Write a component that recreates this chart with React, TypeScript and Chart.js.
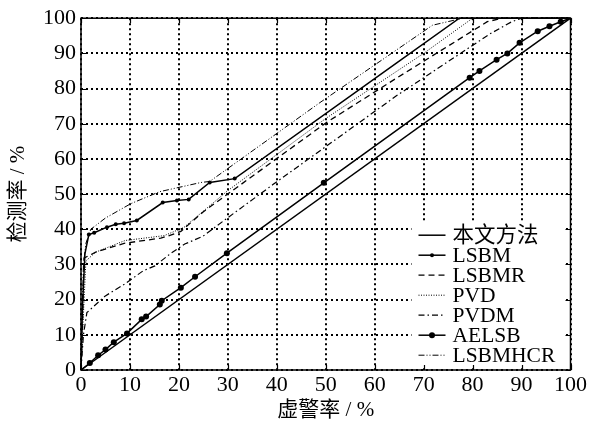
import React, { useEffect, useRef } from "react";
import { Chart, registerables } from "chart.js";

Chart.register(...registerables);

// Axis ticks (percent)
const axisTicks = [0, 10, 20, 30, 40, 50, 60, 70, 80, 90, 100];

// ROC curves: false alarm rate (%) vs detection rate (%)
const oursFpr = [0, 100];
const oursTpr = [0, 100];

const lsbmFpr = [0, 0.3, 0.8, 1.6, 2.7, 5.3, 7.1, 8.8, 11.4, 16.7, 19.6, 22, 26.3, 31.4, 64.5, 77.3, 100];
const lsbmTpr = [0, 18, 33, 38.5, 39, 40.6, 41.4, 41.7, 42.5, 47.6, 48.2, 48.5, 53.3, 54.4, 87.3, 100, 100];

const lsbmrFpr = [0, 0.3, 0.6, 3, 8.8, 16.3, 17.6, 20.4, 25, 50.2, 64.5, 83, 86, 100];
const lsbmrTpr = [0, 12, 31.8, 33.5, 36, 37.5, 38, 39.4, 45, 70.4, 83, 99, 100, 100];

const pvdFpr = [0, 0.3, 1, 3, 9, 17, 21, 30, 50, 70, 80, 100];
const pvdTpr = [0, 10, 31, 33.5, 36.8, 38.2, 40.5, 51, 71.5, 90, 100, 100];

const pvdmFpr = [0, 0.5, 1.2, 4.9, 9, 12.7, 15.1, 18.2, 21.2, 24.9, 29.8, 39.2, 64.5, 83.5, 88, 90, 100];
const pvdmTpr = [0, 10, 16.3, 21, 24.5, 28.2, 29.6, 33, 35.8, 38, 43.1, 52.7, 78, 95.5, 99, 100, 100];

const aelsbFpr = [0, 1.8, 3.5, 5, 6.7, 9.4, 12.4, 13.3, 16.1, 16.5, 20.4, 23.3, 29.8, 49.6, 79.4, 81.4, 84.9, 87.1, 89.6, 93.3, 95.7, 98, 100];
const aelsbTpr = [0, 2, 4.2, 5.8, 7.9, 10.4, 14.4, 15.2, 18.6, 19.7, 23.4, 26.5, 33.2, 53.2, 83.1, 85, 88.2, 90, 93, 96.3, 97.7, 99, 100];

const hcrFpr = [0, 0.2, 0.5, 1, 2, 5, 10.2, 16.1, 24.5, 26.3, 48.8, 71.8, 78, 100];
const hcrTpr = [0, 15, 30, 36, 40, 43.2, 47.3, 50.7, 53.3, 53.6, 76, 98, 100, 100];

const seriesNames = ["本文方法", "LSBM", "LSBMR", "PVD", "PVDM", "AELSB", "LSBMHCR"];

const toPoints = (xs: number[], ys: number[]) => xs.map((x, i) => ({ x, y: ys[i] }));

const SERIF = "'Liberation Serif', 'Times New Roman', 'Noto Sans CJK SC', serif";

type Style = { dash: number[]; width: number; marker: number };
const styles: Style[] = [
  { dash: [], width: 1.5, marker: 0 },
  { dash: [], width: 1.5, marker: 2 },
  { dash: [6, 4], width: 1.3, marker: 0 },
  { dash: [1, 1.5], width: 1, marker: 0 },
  { dash: [6, 3, 1.5, 3], width: 1.2, marker: 0 },
  { dash: [], width: 1.5, marker: 3 },
  { dash: [6, 2, 1, 2, 1, 2], width: 1, marker: 0 },
];

// axes box, inward tick marks and the boxed legend
const frameLegendPlugin = {
  id: "frameLegend",
  afterDatasetsDraw(chart: any) {
    const { ctx, chartArea: a } = chart;
    const xs = chart.scales.x;
    const ys = chart.scales.y;
    ctx.save();

    const x0 = a.right - 152;
    const y0 = a.top + 217;
    const rowH = 20;
    ctx.fillStyle = "#fff";
    ctx.fillRect(x0 - 7, y0 - 14, 154, 146);

    ctx.strokeStyle = "#000";
    ctx.setLineDash([]);
    ctx.lineWidth = 1.5;
    ctx.strokeRect(a.left, a.top, a.right - a.left, a.bottom - a.top);
    ctx.lineWidth = 1.2;
    for (let i = 0; i < axisTicks.length; i++) {
      const px = Math.round(xs.getPixelForValue(axisTicks[i])) + 0.5;
      const py = Math.round(ys.getPixelForValue(axisTicks[i])) + 0.5;
      ctx.beginPath();
      ctx.moveTo(px, a.bottom);
      ctx.lineTo(px, a.bottom - 5);
      ctx.moveTo(px, a.top);
      ctx.lineTo(px, a.top + 5);
      ctx.moveTo(a.left, py);
      ctx.lineTo(a.left + 5, py);
      ctx.moveTo(a.right, py);
      ctx.lineTo(a.right - 5, py);
      ctx.stroke();
    }

    ctx.font = `21.5px ${SERIF}`;
    ctx.textBaseline = "middle";
    ctx.fillStyle = "#000";
    seriesNames.forEach((name, i) => {
      const st = styles[i];
      const y = y0 + i * rowH;
      ctx.setLineDash(st.dash);
      ctx.lineWidth = st.width;
      ctx.beginPath();
      ctx.moveTo(x0, y);
      ctx.lineTo(x0 + 27, y);
      ctx.stroke();
      ctx.setLineDash([]);
      if (st.marker) {
        ctx.beginPath();
        ctx.arc(x0 + 13.5, y, st.marker, 0, Math.PI * 2);
        ctx.fill();
      }
      ctx.fillText(name, x0 + 34, y + 1);
    });
    ctx.restore();
  },
};

export default function App() {
  const canvasRef = useRef<HTMLCanvasElement | null>(null);

  useEffect(() => {
    if (!canvasRef.current) return;
    const sets = [
      toPoints(oursFpr, oursTpr),
      toPoints(lsbmFpr, lsbmTpr),
      toPoints(lsbmrFpr, lsbmrTpr),
      toPoints(pvdFpr, pvdTpr),
      toPoints(pvdmFpr, pvdmTpr),
      toPoints(aelsbFpr, aelsbTpr),
      toPoints(hcrFpr, hcrTpr),
    ];
    const datasets = sets.map((data, i) => {
      const st = styles[i];
      return {
        label: seriesNames[i],
        data,
        borderColor: "#000",
        backgroundColor: "#000",
        borderWidth: st.width,
        borderDash: st.dash,
        tension: 0,
        fill: false,
        clip: 3,
        pointRadius: (c: any) => {
          if (!st.marker) return 0;
          const v = c.raw;
          if (i === 1) return v.x > 1 && v.x < 32 ? st.marker : 0;
          return v.x > 0 && v.x < 100 ? st.marker : 0;
        },
        pointBorderWidth: 0,
        pointHoverRadius: 0,
      };
    });

    const tickFont = { family: SERIF, size: 22 };
    const titleFont = { family: SERIF, size: 21 };
    // dotted black grid: 2 px dots, 5 px period
    const dottedGrid = { display: true, color: "#000", lineWidth: 2, drawTicks: false, drawOnChartArea: true };
    const gridDash = { display: false, dash: [2, 3] };

    const chart = new Chart(canvasRef.current, {
      type: "line",
      data: { datasets },
      plugins: [frameLegendPlugin],
      options: {
        animation: false,
        responsive: true,
        maintainAspectRatio: false,
        layout: { padding: { top: 15, right: 18, left: 0, bottom: 0 } },
        plugins: { legend: { display: false }, tooltip: { enabled: false } },
        scales: {
          x: {
            type: "linear",
            min: 0,
            max: 100,
            afterFit: (s: any) => {
              s.height = 59;
            },
            afterBuildTicks: (s: any) => {
              s.ticks = axisTicks.map((v) => ({ value: v }));
            },
            ticks: { color: "#000", font: tickFont, padding: 2, maxRotation: 0, autoSkip: false },
            grid: dottedGrid,
            border: gridDash,
            title: {
              display: true,
              text: "虚警率 / %",
              color: "#000",
              font: titleFont,
              padding: { top: 0, bottom: 6 },
            },
          },
          y: {
            type: "linear",
            min: 0,
            max: 100,
            afterFit: (s: any) => {
              s.width = 81;
            },
            afterBuildTicks: (s: any) => {
              s.ticks = axisTicks.map((v) => ({ value: v }));
            },
            ticks: { color: "#000", font: tickFont, padding: 5, autoSkip: false },
            grid: dottedGrid,
            border: gridDash,
            title: {
              display: true,
              text: "检测率 / %",
              color: "#000",
              font: titleFont,
              padding: { top: 6, bottom: 0 },
            },
          },
        },
      },
    } as any);
    return () => chart.destroy();
  }, []);

  return (
    <div style={{ position: "fixed", left: 0, top: 0, width: 589, height: 429, background: "#fff" }}>
      <canvas ref={canvasRef} />
    </div>
  );
}
